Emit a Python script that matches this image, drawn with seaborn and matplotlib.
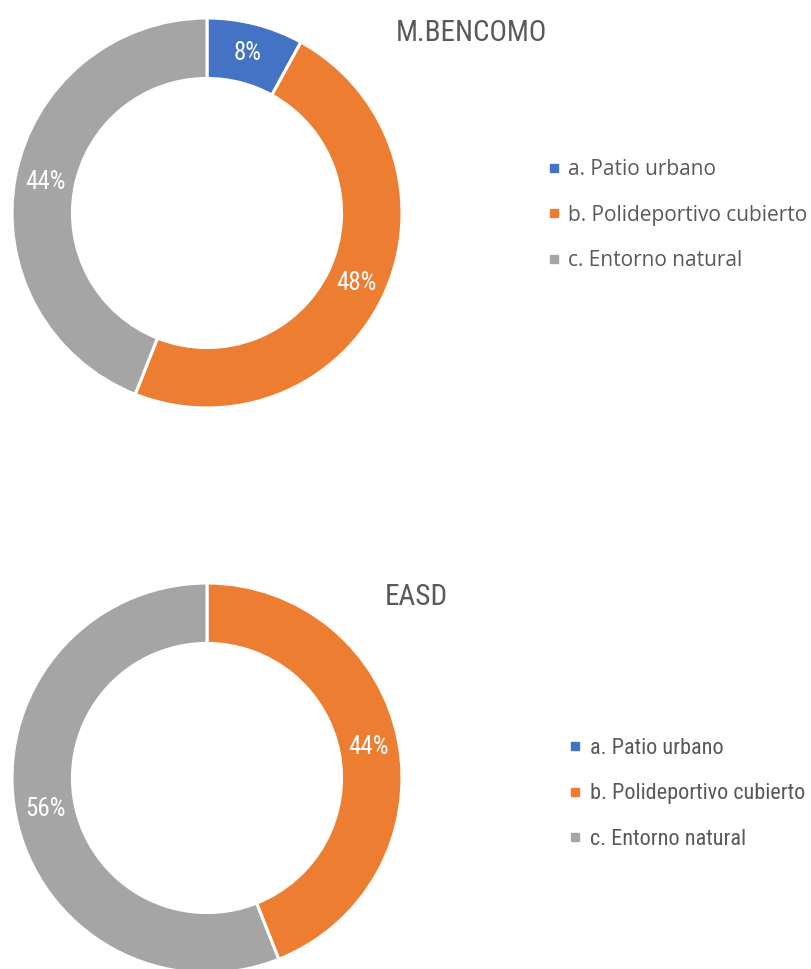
import matplotlib
matplotlib.use("Agg")
import matplotlib.pyplot as plt
from matplotlib.lines import Line2D
import seaborn as sns

# Survey answers (counts out of 25 per school)
categories = ["a. Patio urbano", "b. Polideportivo cubierto", "c. Entorno natural"]
bencomo_counts = [2, 12, 11]
easd_counts = [0, 11, 14]
titles = ["M.BENCOMO", "EASD"]

sns.set_theme(style="white")
colors = sns.color_palette(["#4472C4", "#ED7D31", "#A5A5A5"])
narrow = ["Roboto Condensed", "Liberation Sans Narrow", "Roboto", "DejaVu Sans"]
text_grey = "#595959"

fig = plt.figure(figsize=(8.11, 9.69), dpi=100)

def pct_label(p):
    return "" if p < 0.5 else f"{p:.0f}%"

def donut(rect, counts, title, title_xy, legend_xy, legend_font, legend_size, spacing):
    ax = fig.add_axes(rect)
    wedges, _, autotexts = ax.pie(
        counts, colors=colors, startangle=90, counterclock=False,
        radius=1, autopct=pct_label, pctdistance=0.845,
        wedgeprops=dict(width=0.31, edgecolor="white", linewidth=2.2),
    )
    for t in autotexts:
        t.set_color("white")
        t.set_fontsize(18)
        t.set_family(narrow)
    ax.set_xlim(-1, 1)
    ax.set_ylim(-1, 1)
    ax.set_aspect("equal")
    ax.axis("off")
    fig.text(title_xy[0], title_xy[1], title, ha="center", va="center",
             fontsize=21, color=text_grey, family=narrow)
    handles = [Line2D([], [], marker="s", linestyle="", color=c, markersize=6)
               for c in colors]
    fig.legend(handles, categories, loc="center left",
               bbox_to_anchor=legend_xy, frameon=False, handlelength=0.6,
               handletextpad=0.4, labelspacing=spacing, borderpad=0,
               prop=dict(family=legend_font, size=legend_size), labelcolor=text_grey)
    return ax

donut([12 / 811, 1 - 408 / 969, 390 / 811, 390 / 969], bencomo_counts, titles[0],
      (471 / 811, 1 - 33 / 969), (537 / 811, 1 - 215 / 969),
      ["Open Sans", "DejaVu Sans"], 15, 1.18)
donut([12 / 811, 1 - 973 / 969, 390 / 811, 390 / 969], easd_counts, titles[1],
      (416 / 811, 1 - 597 / 969), (557 / 811, 1 - 794 / 969), narrow, 16, 1.1)

fig.savefig("out.png", dpi=100)
